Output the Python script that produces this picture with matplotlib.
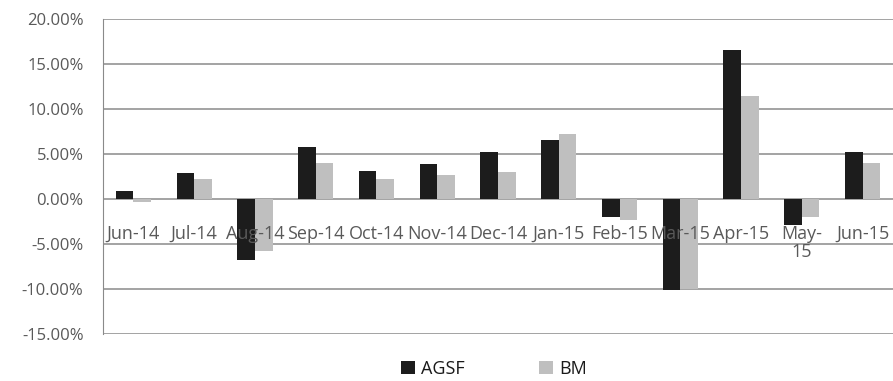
import numpy as np
import matplotlib.pyplot as plt
from matplotlib.ticker import FuncFormatter

plt.rcParams['font.family'] = ['Open Sans', 'DejaVu Sans']

months = ['Jun-14', 'Jul-14', 'Aug-14', 'Sep-14', 'Oct-14', 'Nov-14', 'Dec-14',
          'Jan-15', 'Feb-15', 'Mar-15', 'Apr-15', 'May-\n15', 'Jun-15']
agsf = [0.92, 2.85, -6.8, 5.75, 3.07, 3.85, 5.26, 6.6, -2.0, -10.15, 16.6, -2.85, 5.26]
bm = [-0.3, 2.2, -5.75, 4.0, 2.2, 2.67, 2.96, 7.2, -2.37, -10.0, 11.5, -2.0, 4.0]
yticks = [-15, -10, -5, 0, 5, 10, 15, 20]

fig = plt.figure(figsize=(8.93, 3.81), dpi=100)
ax = fig.add_axes([103 / 893, 1 - 334 / 381, 790 / 893, 315 / 381])

# gridlines behind the bars, tick labels on top of them
for t in yticks:
    ax.axhline(t, color='#8a8a8a', linewidth=1.1, zorder=0.5)

x = np.arange(len(months))
w = 0.29
ax.bar(x - w / 2, agsf, width=w, color='#1c1c1c', label='AGSF', zorder=1)
ax.bar(x + w / 2, bm, width=w, color='#bfbfbf', label='BM', zorder=1)

ax.set_xlim(-0.5, len(months) - 0.5)
ax.set_ylim(-15, 20)
ax.set_yticks(yticks)
ax.yaxis.set_major_formatter(FuncFormatter(lambda v, p: '%.2f%%' % v))
ax.set_axisbelow(False)

for s in ['top', 'right', 'bottom']:
    ax.spines[s].set_visible(False)
ax.spines['left'].set_color('#8a8a8a')

ax.set_xticks([])
ax.tick_params(axis='y', length=0, pad=14, labelsize=12, colors='#595959')

for xi, m in zip(x, months):
    ax.text(xi, -2.85, m, ha='center', va='top', fontsize=13, color='#595959',
            linespacing=1.05, zorder=5)

fig.legend(loc='center', bbox_to_anchor=(494 / 893, 1 - 369 / 381), ncol=2,
           frameon=False, fontsize=13, handlelength=0.75, handleheight=0.75,
           handletextpad=0.35, columnspacing=4.15, labelcolor='#1a1a1a')

fig.savefig('out.png', dpi=100)
